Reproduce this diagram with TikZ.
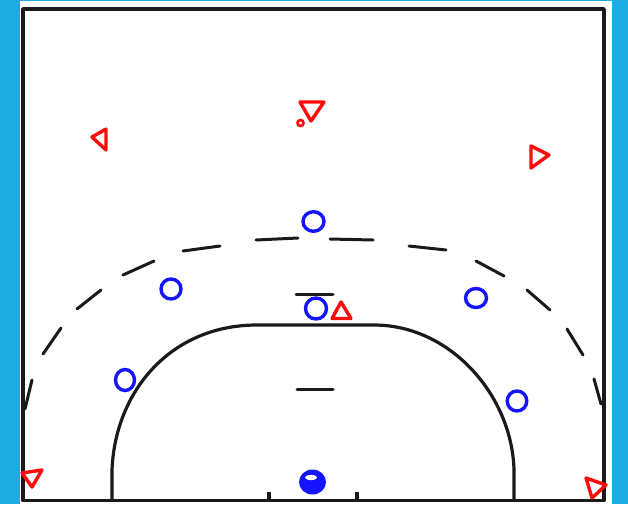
\documentclass[tikz,border=0pt]{standalone}
\definecolor{bgblue}{HTML}{1CABE2}
\definecolor{pblue}{HTML}{1414FF}
\definecolor{pred}{HTML}{FF0A0A}
\definecolor{ink}{HTML}{1A1A1A}
\tikzset{
  court/.style={draw=ink,line width=3.2pt,line join=round},
  markline/.style={draw=ink,line width=3pt,line cap=round},
  arcdash/.style={draw=ink,line width=3pt,line cap=round},
  defender/.style={draw=pred,line width=3.4pt,line join=round},
  attacker/.style={draw=pblue,line width=3.4pt}
}
\begin{document}
\begin{tikzpicture}[x=1pt,y=-1pt]
\useasboundingbox (0,0) rectangle (628,504);
\fill[bgblue] (0,0) rectangle (628,504);
\fill[white] (20,1) rectangle (612,504);
% frame
\draw[court,line width=3.6pt] (23,500.5) -- (23,9) -- (604,9) -- (604,500.5) -- cycle;
% solid key line
\draw[court] (112,500) -- (112,470) .. controls (115,392) and (170,325) .. (257,325)
  -- (374,325) .. controls (450,325) and (512,395) .. (514,470) -- (514,500);
% dashed arc
\foreach \a/\b/\c/\d in {25/409/32/380,43/354/61/328,77/309/101/290,123/275/154/261,
  183/251/220/246,256/240/298/238,330/239/373/240,409/246/446/250,476/261/504/276,
  527/290/550/310,567/329/583/355,594/379/601/404}
  \draw[arcdash] (\a,\b) -- (\c,\d);
% hash marks and ticks
\draw[markline] (296,294.5) -- (333,294.5);
\draw[markline] (297,389) -- (333,389);
\draw[court] (269,492) -- (269,500);
\draw[court] (357,492) -- (357,500);
% attackers
\draw[attacker] (313.5,221.5) ellipse (10.5 and 9.8);
\draw[attacker] (171,289) ellipse (10 and 10);
\draw[attacker] (125,380) ellipse (9.5 and 10.5);
\draw[attacker] (316,308.5) ellipse (10.5 and 10.5);
\draw[attacker] (476,298) ellipse (10.5 and 9.5);
\draw[attacker] (517,401) ellipse (9.8 and 10);
\fill[pblue] (312.5,482) ellipse (13.5 and 12.5);
\fill[white] (311,477.5) ellipse (6 and 2.6);
% defenders
\draw[defender] (92,137) -- (106,129) -- (106,150) -- cycle;
\draw[defender] (300,102) -- (324,102) -- (311,121) -- cycle;
\draw[defender] (531,146) -- (549,155) -- (531,168) -- cycle;
\draw[defender] (341,302) -- (332,318.5) -- (351,318.5) -- cycle;
\draw[defender] (22,473) -- (42,470) -- (32,487) -- cycle;
\draw[defender] (586,478) -- (606,485) -- (592,498) -- cycle;
\draw[pred,line width=2.6pt] (300.5,123) circle (3);
\end{tikzpicture}
\end{document}
